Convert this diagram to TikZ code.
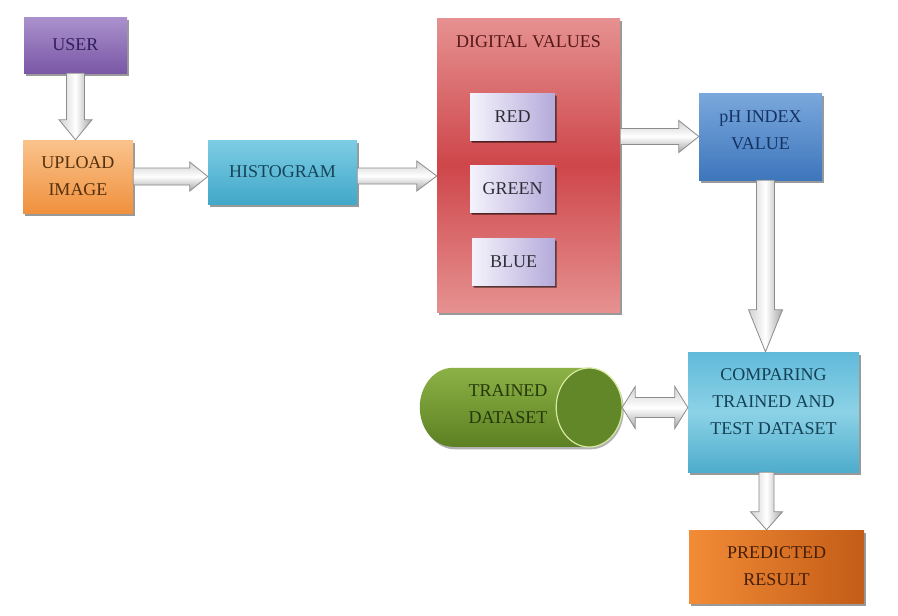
\documentclass[tikz,border=0pt]{standalone}
\usepackage{fontspec}
\setmainfont{Liberation Serif}
\usetikzlibrary{calc,shadows}
\definecolor{arrowline}{HTML}{8C8C8C}
\tikzset{
  box/.style={rectangle, inner sep=2pt, align=center,
    font=\fontsize{18}{27}\selectfont,
    drop shadow={shadow xshift=1.5pt, shadow yshift=-2.5pt, fill=black, opacity=0.4}},
  plain/.style={inner sep=0pt, align=center, font=\fontsize{18}{27}\selectfont},
  userbox/.style={box, top color={rgb,255:red,170;green,145;blue,205}, bottom color={rgb,255:red,122;green,88;blue,166}, text={rgb,255:red,50;green,30;blue,90}},
  uplbox/.style={box, top color={rgb,255:red,250;green,195;blue,140}, bottom color={rgb,255:red,240;green,145;blue,62}, text={rgb,255:red,85;green,48;blue,12}},
  histbox/.style={box, top color={rgb,255:red,125;green,205;blue,228}, bottom color={rgb,255:red,65;green,168;blue,200}, text={rgb,255:red,22;green,68;blue,88}},
  dvbox/.style={box, top color={rgb,255:red,230;green,145;blue,145}, bottom color={rgb,255:red,230;green,145;blue,145}, middle color={rgb,255:red,206;green,70;blue,74}},
  rgbbox/.style={box, left color={rgb,255:red,245;green,243;blue,252}, right color={rgb,255:red,180;green,170;blue,218}, text={rgb,255:red,45;green,45;blue,55},
    drop shadow={shadow xshift=1pt, shadow yshift=-2pt, fill=black, opacity=0.35}},
  phbox/.style={box, top color={rgb,255:red,122;green,168;blue,220}, bottom color={rgb,255:red,62;green,118;blue,188}},
  cmpbox/.style={box, top color={rgb,255:red,96;green,186;blue,218}, bottom color={rgb,255:red,78;green,172;blue,204}, middle color={rgb,255:red,140;green,210;blue,230}},
  predbox/.style={box, left color={rgb,255:red,242;green,140;blue,55}, right color={rgb,255:red,195;green,92;blue,22}, text={rgb,255:red,70;green,30;blue,8}},
  harrow/.style={draw=arrowline, line width=0.8pt, top color=black!18, bottom color=black!35, middle color=white},
  varrow/.style={draw=arrowline, line width=0.8pt, left color=black!18, right color=black!35, middle color=white},
}
% horizontal block arrow: from, to, half shaft, half head, head length
\newcommand\myhblock[5]{%
  \path[harrow] let \p1=(#1), \p2=(#2) in
    (\x1,\y1+#3) -- (\x2-#5,\y1+#3) -- (\x2-#5,\y1+#4) -- (\x2,\y1)
    -- (\x2-#5,\y1-#4) -- (\x2-#5,\y1-#3) -- (\x1,\y1-#3) -- cycle;}
% vertical block arrow (downwards)
\newcommand\myvblock[5]{%
  \path[varrow] let \p1=(#1), \p2=(#2) in
    (\x1-#3,\y1) -- (\x1-#3,\y2+#5) -- (\x1-#4,\y2+#5) -- (\x1,\y2)
    -- (\x1+#4,\y2+#5) -- (\x1+#3,\y2+#5) -- (\x1+#3,\y1) -- cycle;}
% double horizontal block arrow
\newcommand\mydblock[5]{%
  \path[harrow] let \p1=(#1), \p2=(#2) in
    (\x1,\y1) -- (\x1+#5,\y1+#4) -- (\x1+#5,\y1+#3) -- (\x2-#5,\y1+#3) -- (\x2-#5,\y1+#4)
    -- (\x2,\y1) -- (\x2-#5,\y1-#4) -- (\x2-#5,\y1-#3) -- (\x1+#5,\y1-#3) -- (\x1+#5,\y1-#4) -- cycle;}
\begin{document}
\begin{tikzpicture}[x=1pt,y=-1pt]
\useasboundingbox[fill=white] (0,0) rectangle (898,616);

% boxes
\node[userbox, minimum width=103pt, minimum height=56pt] (user) at (75.5,45) {USER};
\node[uplbox, minimum width=110pt, minimum height=73pt] (upl) at (78,176.5) {UPLOAD\\IMAGE};
\node[histbox, minimum width=149pt, minimum height=64pt] (hist) at (282.5,172) {HISTOGRAM};
\node[dvbox, minimum width=183pt, minimum height=294pt] (dv) at (528.5,165) {};
\node[plain, text={rgb,255:red,85;green,25;blue,25}] (dvtitle) at (528.5,42) {DIGITAL VALUES};
\node[rgbbox, minimum width=85pt, minimum height=47pt] (red) at (512.5,116.5) {RED};
\node[rgbbox, minimum width=85pt, minimum height=47pt] (green) at (512.5,188.5) {GREEN};
\node[rgbbox, minimum width=83pt, minimum height=47pt] (blue) at (513.5,261.5) {BLUE};
\node[phbox, minimum width=123pt, minimum height=87pt] (ph) at (760.5,136.5) {};
\node[plain, text={rgb,255:red,20;green,50;blue,100}] (phtxt) at (760.5,130) {pH INDEX\\VALUE};
\node[cmpbox, minimum width=171pt, minimum height=120pt] (cmp) at (773.5,412) {};
\node[plain, text={rgb,255:red,20;green,65;blue,85}] (cmptxt) at (773.5,402) {COMPARING\\TRAINED AND\\TEST DATASET};
\node[predbox, minimum width=175pt, minimum height=73pt] (pred) at (776.5,566.5) {PREDICTED\\RESULT};

% trained dataset cylinder
\node[minimum width=202pt, minimum height=79pt, inner sep=0pt] (trained) at (521,407.5) {};
\fill[black, opacity=0.3] ($(trained.north west)+(35,2.5)$) arc[start angle=90, end angle=270, x radius=33pt, y radius=39.5pt]
  -- ++(136pt,0pt) arc[start angle=270, end angle=450, x radius=33pt, y radius=39.5pt] -- cycle;
\path[top color={rgb,255:red,140;green,178;blue,70}, bottom color={rgb,255:red,92;green,128;blue,34}]
  ($(trained.north west)+(33,0)$) arc[start angle=90, end angle=270, x radius=33pt, y radius=39.5pt]
  -- ++(136pt,0pt) arc[start angle=270, end angle=450, x radius=33pt, y radius=39.5pt] -- cycle;
\path[fill={rgb,255:red,98;green,135;blue,40}, draw={rgb,255:red,215;green,232;blue,160}, line width=1.2pt]
  ($(trained.east)+(-33,0)$) ellipse[x radius=33pt, y radius=39.5pt];
\node[plain, text={rgb,255:red,38;green,55;blue,10}] (trtxt) at (508,404) {TRAINED\\DATASET};

% arrows
\myvblock{user.south}{upl.north}{9pt}{16.5pt}{20pt}
\myhblock{upl.east}{hist.west}{8.5pt}{14.5pt}{18pt}
\myhblock{$(hist.east)+(0,4)$}{dv.west}{8pt}{15pt}{20pt}
\myhblock{dv.east |- ph.west}{ph.west}{8pt}{16pt}{20pt}
\myvblock{$(ph.south)+(5,0)$}{cmp.north}{9pt}{17pt}{42pt}
\mydblock{trained.east}{cmp.west}{10pt}{21pt}{13pt}
\myvblock{$(cmp.south)+(-7,0)$}{pred.north}{7.5pt}{16pt}{18pt}
\end{tikzpicture}
\end{document}
